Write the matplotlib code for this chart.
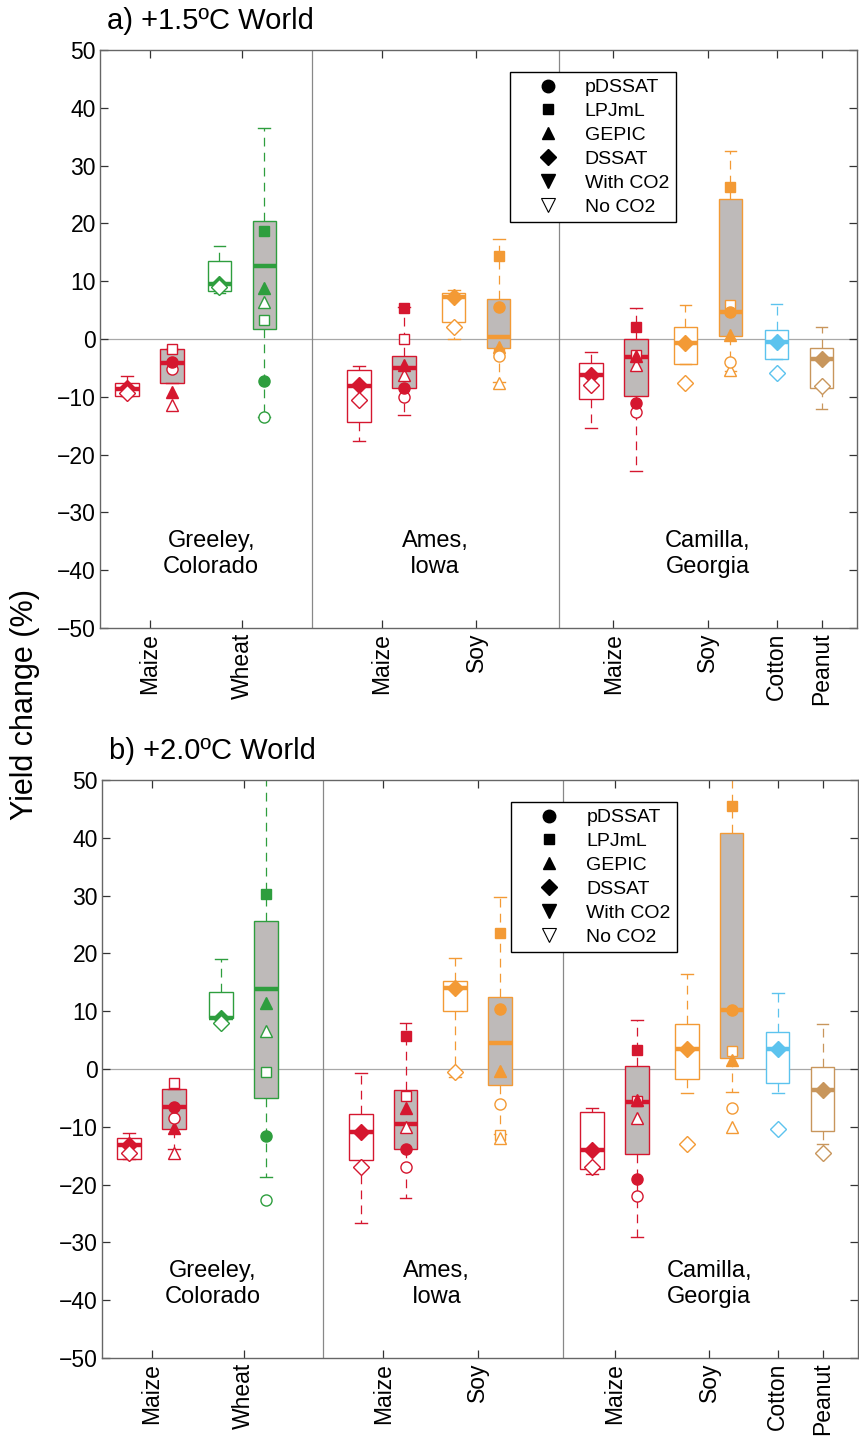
import numpy as np
import matplotlib
matplotlib.use("Agg")
import matplotlib.pyplot as plt
from matplotlib.lines import Line2D

plt.rcParams['font.family'] = ['Liberation Sans', 'DejaVu Sans']

nan = np.nan

# categories
crops = ['Maize', 'Wheat', 'Maize', 'Soy', 'Maize', 'Soy', 'Cotton', 'Peanut']
crop_pos = [1.05, 3.0, 5.95, 7.95, 10.85, 12.85, 14.3, 15.25]
crop_colors = ['#D5172F', '#2E9E3E', '#D5172F', '#F39A35', '#D5172F', '#F39A35', '#5CC3EE', '#C8965C']
sites = ['Greeley,\nColorado', 'Ames,\nIowa', 'Camilla,\nGeorgia']
site_x = [2.35, 7.08, 12.85]

# ---- panel a: +1.5C ----
# DSSAT boxes (white), one per crop
a_w_q1 = [-9.9, 8.3, -14.3, 3.0, -10.3, -4.3, -3.5, -8.5]
a_w_med = [-8.7, 9.5, -8.1, 7.3, -6.2, -0.7, -0.5, -3.5]
a_w_q3 = [-7.6, 13.5, -5.4, 8.0, -4.2, 2.1, 1.6, -1.6]
a_w_lo = [-9.9, 8.0, -17.6, 0.0, -15.4, -4.3, -3.5, -12.1]
a_w_hi = [-6.4, 16.1, -4.6, 8.5, -2.3, 5.8, 6.1, 2.1]
a_dssat_co2 = [-8.5, 9.5, -8.0, 7.3, -6.2, -0.7, -0.5, -3.5]
a_dssat_noco2 = [-9.3, 9.0, -10.5, 2.1, -8.0, -7.6, -5.9, -8.2]
# ensemble boxes (grey), first six crops
a_g_q1 = [-7.6, 1.7, -8.5, -1.6, -9.8, 0.5]
a_g_med = [-4.2, 12.6, -5.0, 0.4, -3.2, 4.7]
a_g_q3 = [-1.7, 20.4, -2.9, 6.9, 0.0, 24.2]
a_g_lo = [-7.6, -13.5, -13.1, -7.5, -22.8, -5.5]
a_g_hi = [-1.7, 36.5, 5.5, 17.3, 5.3, 32.5]
a_pdssat_co2 = [-4.0, -7.2, -8.4, 5.6, -11.1, 4.7]
a_pdssat_noco2 = [-5.2, -13.5, -10.0, -3.0, -12.7, -4.0]
a_lpjml_co2 = [nan, 18.7, 5.3, 14.4, 2.0, 26.3]
a_lpjml_noco2 = [-1.7, 3.3, 0.0, -2.5, -2.8, 5.9]
a_gepic_co2 = [-9.2, 8.8, -4.5, -1.3, -2.9, 0.7]
a_gepic_noco2 = [-11.4, 6.4, -6.2, -7.6, -4.5, -5.4]
a_seps = [4.48, 9.70]

# ---- panel b: +2.0C ----
b_w_q1 = [-15.6, 8.8, -15.7, 10.0, -17.3, -1.7, -2.4, -10.7]
b_w_med = [-13.1, 8.8, -10.9, 14.0, -14.0, 3.5, 3.4, -3.6]
b_w_q3 = [-11.9, 13.3, -7.8, 15.2, -7.4, 7.8, 6.4, 0.4]
b_w_lo = [-15.6, 8.8, -26.6, -1.4, -18.2, -4.2, -4.2, -13.0]
b_w_hi = [-11.1, 19.0, -0.7, 19.2, -6.8, 16.4, 13.1, 7.8]
b_dssat_co2 = [-13.1, 8.8, -10.9, 14.0, -14.0, 3.5, 3.4, -3.6]
b_dssat_noco2 = [-14.6, 8.0, -16.9, -0.5, -16.9, -13.0, -10.4, -14.5]
b_g_q1 = [-10.4, -5.0, -13.8, -2.8, -14.7, 1.9]
b_g_med = [-6.6, 13.8, -9.5, 4.5, -5.7, 10.2]
b_g_q3 = [-3.5, 25.6, -3.6, 12.5, 0.5, 40.8]
b_g_lo = [-13.8, -18.7, -22.3, -11.2, -29.1, -4.0]
b_g_hi = [-3.5, 56.0, 7.9, 29.8, 8.5, 52.0]
b_pdssat_co2 = [-6.6, -11.6, -13.8, 10.4, -19.0, 10.2]
b_pdssat_noco2 = [-8.5, -22.6, -16.9, -6.0, -21.9, -6.7]
b_lpjml_co2 = [nan, 30.3, 5.7, 23.5, 3.3, 45.5]
b_lpjml_noco2 = [-2.4, -0.5, -4.7, -11.5, -5.5, 3.1]
b_gepic_co2 = [-10.2, 11.4, -6.8, -0.3, -5.4, 1.6]
b_gepic_noco2 = [-14.5, 6.6, -10.0, -12.0, -8.5, -10.0]
b_seps = [4.68, 9.76]

GREY = '#BEBAB9'
OFF = 0.475


def draw_box(ax, pos, q1, med, q3, lo, hi, color, face):
    st = dict(med=med, q1=q1, q3=q3, whislo=lo, whishi=hi, fliers=[])
    ax.bxp([st], positions=[pos], widths=0.5, patch_artist=True, showfliers=False,
           capwidths=[0.25], manage_ticks=False,
           boxprops=dict(facecolor=face, edgecolor=color, lw=1.0),
           medianprops=dict(color=color, lw=3.2, solid_capstyle='butt'),
           whiskerprops=dict(color=color, lw=0.9, ls=(0, (7, 5))),
           capprops=dict(color=color, lw=1.0), zorder=2)


def dots(ax, pos, val, marker, color, ms, filled):
    ax.plot([pos], [val], ls='none', marker=marker, ms=ms,
            mfc=color if filled else 'white', mec=color, mew=1.0, zorder=4)


def draw_panel(ax, title, w, g, dssat, pd, lp, ge, seps):
    ax.axhline(0, color='#A8A8A8', lw=0.9, zorder=1)
    for s in seps:
        ax.axvline(s, color='#888888', lw=0.9, zorder=1)
    for i, c in enumerate(crops):
        col = crop_colors[i]
        if i < 6:
            wp = crop_pos[i] - OFF
            gp = crop_pos[i] + OFF
        else:
            wp = crop_pos[i]
            gp = None
        draw_box(ax, wp, w[0][i], w[1][i], w[2][i], w[3][i], w[4][i], col, 'white')
        dots(ax, wp, dssat[0][i], 'D', col, 8, True)
        dots(ax, wp, dssat[1][i], 'D', col, 8, False)
        if gp is not None:
            draw_box(ax, gp, g[0][i], g[1][i], g[2][i], g[3][i], g[4][i], col, GREY)
            dots(ax, gp, lp[1][i], 's', col, 6.5, False)
            dots(ax, gp, lp[0][i], 's', col, 6.5, True)
            dots(ax, gp, ge[1][i], '^', col, 8, False)
            dots(ax, gp, ge[0][i], '^', col, 8, True)
            dots(ax, gp, pd[1][i], 'o', col, 8, False)
            dots(ax, gp, pd[0][i], 'o', col, 8, True)
    for sx, st in zip(site_x, sites):
        ax.text(sx, -37.2, st, ha='center', va='center', fontsize=17, linespacing=1.2)
    ax.set_xlim(0, 16)
    ax.set_ylim(-50, 50)
    ax.set_yticks(np.arange(-50, 51, 10))
    ax.set_xticks(crop_pos)
    ax.set_xticklabels(crops, rotation=90, fontsize=16.5)
    ax.tick_params(axis='y', labelsize=16.5, pad=3)
    ax.tick_params(direction='in', length=6, width=0.9, color='#333333',
                   top=True, right=True)
    for sp in ax.spines.values():
        sp.set_color('#666666')
        sp.set_linewidth(1.0)
    ax.text(0.009, 1.05, title, transform=ax.transAxes, fontsize=21, va='center')

    handles = [
        Line2D([], [], ls='none', marker='o', ms=9, mfc='k', mec='k'),
        Line2D([], [], ls='none', marker='s', ms=7.5, mfc='k', mec='k'),
        Line2D([], [], ls='none', marker='^', ms=9, mfc='k', mec='k'),
        Line2D([], [], ls='none', marker='D', ms=8, mfc='k', mec='k'),
        Line2D([], [], ls='none', marker='v', ms=9.5, mfc='k', mec='k'),
        Line2D([], [], ls='none', marker='v', ms=9.5, mfc='white', mec='k', mew=0.8),
    ]
    labels = ['pDSSAT', 'LPJmL', 'GEPIC', 'DSSAT', 'With CO2', 'No CO2']
    leg = ax.legend(handles, labels, loc='upper left', bbox_to_anchor=(0.5416, 0.962),
                    fontsize=14, frameon=True, fancybox=False, framealpha=1,
                    edgecolor='black', handlelength=3.2, handletextpad=0.3,
                    labelspacing=0.32, borderpad=0.35, borderaxespad=0)
    leg.get_frame().set_linewidth(1.0)


fig = plt.figure(figsize=(8.59, 14.4), dpi=100)
ax1 = fig.add_axes([100 / 859, 1 - 628 / 1440, 757 / 859, 578 / 1440])
ax2 = fig.add_axes([102 / 859, 1 - 1358 / 1440, 756 / 859, 578 / 1440])

draw_panel(ax1, 'a) +1.5ºC World',
           [a_w_q1, a_w_med, a_w_q3, a_w_lo, a_w_hi],
           [a_g_q1, a_g_med, a_g_q3, a_g_lo, a_g_hi],
           [a_dssat_co2, a_dssat_noco2],
           [a_pdssat_co2, a_pdssat_noco2],
           [a_lpjml_co2, a_lpjml_noco2],
           [a_gepic_co2, a_gepic_noco2], a_seps)
draw_panel(ax2, 'b) +2.0ºC World',
           [b_w_q1, b_w_med, b_w_q3, b_w_lo, b_w_hi],
           [b_g_q1, b_g_med, b_g_q3, b_g_lo, b_g_hi],
           [b_dssat_co2, b_dssat_noco2],
           [b_pdssat_co2, b_pdssat_noco2],
           [b_lpjml_co2, b_lpjml_noco2],
           [b_gepic_co2, b_gepic_noco2], b_seps)

fig.text(25 / 859, 1 - 705 / 1440, 'Yield change (%)', rotation=90,
         ha='center', va='center', fontsize=22)

fig.savefig('out.png', dpi=100)
